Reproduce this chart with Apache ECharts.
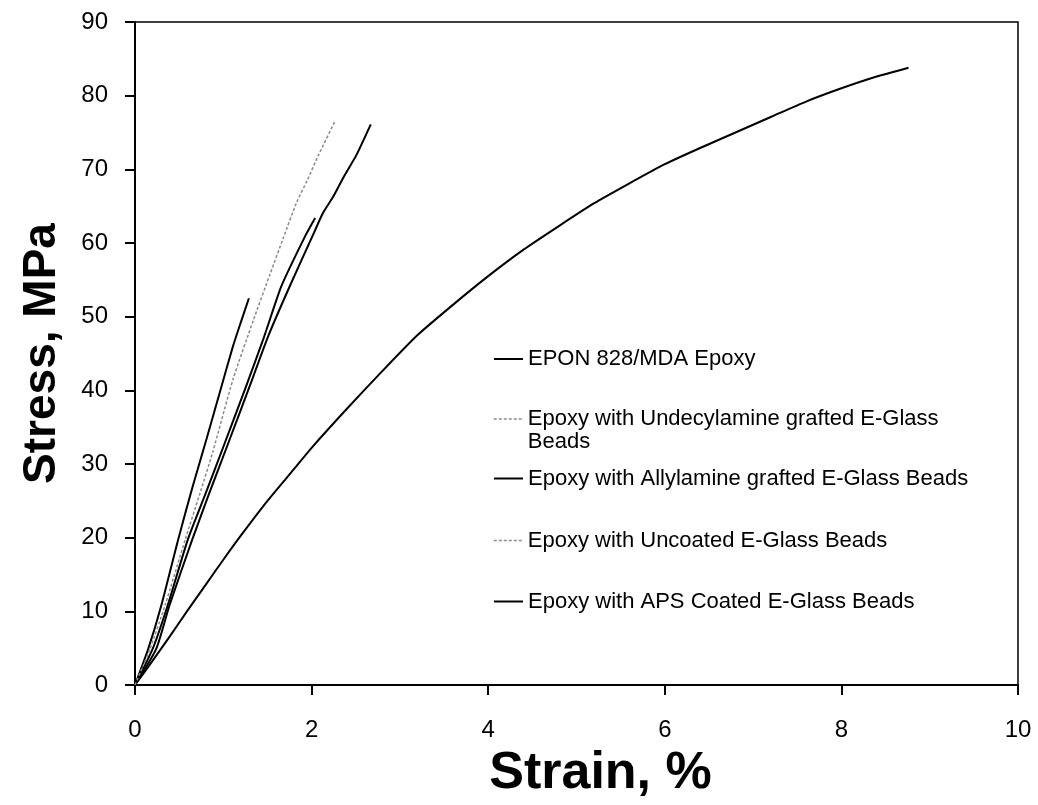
<!DOCTYPE html>
<html>
<head>
<meta charset="utf-8">
<script src="https://cdn.jsdelivr.net/npm/echarts@6/dist/echarts.min.js"></script>
<style>
html,body{margin:0;padding:0;background:#fff;}
#chart{width:1038px;height:805px;}
</style>
</head>
<body>
<div id="chart"></div>
<script>
// ---- data (strain %, stress MPa) ----
const seriesNames = [
  'EPON 828/MDA Epoxy',
  'Epoxy with Undecylamine grafted E-Glass Beads',
  'Epoxy with Allylamine grafted E-Glass Beads',
  'Epoxy with Uncoated E-Glass Beads',
  'Epoxy with APS Coated E-Glass Beads'
];
const eponData = [[0,0],[0.2,3.3],[0.4,6.7],[0.6,10.2],[0.8,13.6],[1.0,17.0],[1.2,20.3],[1.5,25.0],[1.8,29.3],[2.0,32.2],[2.4,37.5],[2.8,42.6],[3.2,47.5],[3.6,51.6],[4.0,55.5],[4.4,59.1],[4.8,62.3],[5.2,65.4],[5.6,68.1],[6.0,70.7],[6.4,72.9],[6.8,75.0],[7.2,77.1],[7.6,79.2],[8.0,81.0],[8.4,82.6],[8.76,83.8]];
const undecylData = [[0,0],[0.15,4.9],[0.3,10.9],[0.49,19.8],[0.65,26.8],[0.81,33.4],[0.96,39.7],[1.11,46.0],[1.2,49.3],[1.29,52.5]];
const allylData = [[0,0],[0.2,4.9],[0.37,10.8],[0.6,19.8],[0.8,26.0],[0.99,32.0],[1.26,40.6],[1.46,47.2],[1.66,54.2],[1.93,61.0],[2.04,63.4]];
const uncoatedData = [[0,0],[0.17,4.9],[0.34,10.8],[0.57,19.8],[0.73,25.8],[0.88,31.6],[1.11,41.5],[1.34,49.5],[1.53,55.8],[1.68,60.7],[1.83,65.5],[1.95,68.5],[2.08,72.0],[2.26,76.4]];
const apsData = [[0,0],[0.24,4.9],[0.39,10.8],[0.65,19.8],[0.84,26.0],[1.03,32.0],[1.3,40.6],[1.51,47.4],[1.755,54.2],[2.02,61.2],[2.13,64.1],[2.245,66.3],[2.36,68.9],[2.51,72.0],[2.67,76.1]];
const xTicks = [0,2,4,6,8,10];
const yTicks = [0,10,20,30,40,50,60,70,80,90];

const FONT = '"Liberation Sans", Arial, sans-serif';
const solid = {color:'#000', width:2, type:'solid'};
const dotted = {color:'#8a8a8a', width:1.5, type:[3,2]};

const allData = [eponData, undecylData, allylData, uncoatedData, apsData];
const seriesStyles = [solid, solid, solid, dotted, solid];
const legendStyles = [solid, dotted, solid, dotted, solid];
const legendTops = [347.5, 384.5, 467, 529, 590];

const chart = echarts.init(document.getElementById('chart'));

const legends = seriesNames.map((n, i) => {
  const two = (i === 1);
  return {
    data: [n],
    left: 493,
    top: legendTops[i],
    padding: 0,
    itemWidth: 29,
    itemHeight: 12,
    selectedMode: false,
    itemStyle: {opacity: 0},
    lineStyle: Object.assign({}, legendStyles[i]),
    formatter: two ? (name => '\n' + name.replace(' Beads', '\nBeads')) : (name => name),
    textStyle: {fontFamily: FONT, fontSize: 22, color: '#000', lineHeight: 23}
  };
});

chart.setOption({
  animation: false,
  backgroundColor: '#fff',
  grid: {left: 135, right: 20, top: 22, bottom: 119, show: true, borderColor: '#000', borderWidth: 1.5, containLabel: false},
  legend: legends,
  xAxis: {
    type: 'value', min: 0, max: 10, interval: 2,
    name: 'Strain, %', nameLocation: 'middle', nameGap: 63,
    nameTextStyle: {fontFamily: FONT, fontSize: 52, fontWeight: 'bold', color: '#000', padding: [0, 0, 0, 48]},
    axisLine: {show: true, onZero: false, lineStyle: {color: '#000', width: 2}},
    axisTick: {show: true, inside: false, length: 10, lineStyle: {color: '#000', width: 2}},
    axisLabel: {margin: 33, fontFamily: FONT, fontSize: 24, color: '#000',
                formatter: v => (xTicks.indexOf(v) >= 0 ? String(v) : '')},
    splitLine: {show: false}
  },
  yAxis: {
    type: 'value', min: 0, max: 90, interval: 10,
    name: 'Stress, MPa', nameLocation: 'middle', nameGap: 70, nameRotate: 90,
    nameTextStyle: {fontFamily: FONT, fontSize: 46, fontWeight: 'bold', color: '#000'},
    axisLine: {show: true, onZero: false, lineStyle: {color: '#000', width: 2}},
    axisTick: {show: true, inside: false, length: 10, lineStyle: {color: '#000', width: 2}},
    axisLabel: {margin: 27, fontFamily: FONT, fontSize: 24, color: '#000',
                formatter: v => (yTicks.indexOf(v) >= 0 ? String(v) : '')},
    splitLine: {show: false}
  },
  series: seriesNames.map((n, i) => ({
    name: n,
    type: 'line',
    data: allData[i],
    showSymbol: false,
    symbol: 'none',
    smooth: 0.2,
    lineStyle: Object.assign({}, seriesStyles[i]),
    emphasis: {disabled: true},
    z: i === 3 ? 3 : 2
  }))
});
</script>
</body>
</html>
